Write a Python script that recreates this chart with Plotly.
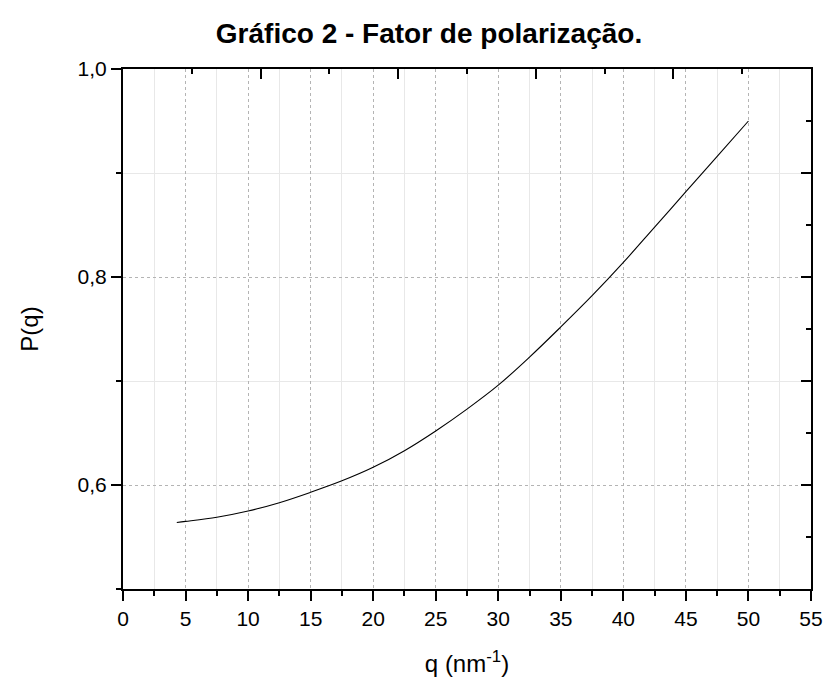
import plotly.graph_objects as go

# Data
q_vals = [4.3, 5, 7.5, 10, 12.5, 15, 17.5, 20, 22.5, 25, 27.5, 30, 32.5, 35,
          37.5, 40, 42.5, 45, 47.5, 50]
p_vals = [0.564, 0.565, 0.569, 0.575, 0.583, 0.593, 0.604, 0.617, 0.633, 0.652,
          0.673, 0.696, 0.723, 0.752, 0.782, 0.814, 0.848, 0.882, 0.916, 0.950]

title_text = "<b>Gráfico 2 - Fator de polarização.</b>"
x_title = "q (nm<sup>-1</sup>)"
y_title = "P(q)"

FONT = "Liberation Sans, Arial, sans-serif"

fig = go.Figure()
fig.add_trace(go.Scatter(x=q_vals, y=p_vals, mode="lines", line=dict(color="black", width=1.1, shape="spline"),
                         showlegend=False, hoverinfo="skip"))
# invisible trace to anchor top/right axes
fig.add_trace(go.Scatter(x=q_vals, y=p_vals, mode="lines", xaxis="x2", yaxis="y2",
                         line=dict(color="rgba(0,0,0,0)"), showlegend=False, hoverinfo="skip"))

major_grid = dict(showgrid=True, gridcolor="#b4b4b4", griddash="dot", gridwidth=1)

fig.update_layout(
    width=825, height=680,
    margin=dict(l=123, r=14, t=69, b=91),
    paper_bgcolor="white", plot_bgcolor="white",
    separators=",.",
    font=dict(family=FONT, color="black"),
    title=dict(text=title_text, x=429/825, xanchor="center", xref="container",
               y=1-33/680, yanchor="middle", yref="container",
               font=dict(size=28, family=FONT, color="black")),
    xaxis=dict(range=[0, 55], dtick=5, tick0=0, ticks="outside", ticklen=10, tickwidth=2,
               tickcolor="black", showline=True, linewidth=2, linecolor="black",
               tickfont=dict(size=21), zeroline=False, automargin=False,
               title=dict(text=x_title, font=dict(size=24), standoff=26),
               minor=dict(dtick=2.5, ticks="outside", ticklen=5, tickwidth=2, tickcolor="black",
                          showgrid=True, gridcolor="#e8e8e8", gridwidth=1, griddash="solid"),
               **major_grid),
    yaxis=dict(range=[0.5, 1.0], dtick=0.2, tick0=0.6, tickformat=".1f", ticks="outside",
               ticklen=10, tickwidth=2, tickcolor="black", showline=True, linewidth=2,
               linecolor="black", tickfont=dict(size=21), zeroline=False, automargin=False,
               title=dict(text=y_title, font=dict(size=24), standoff=32),
               minor=dict(dtick=0.1, tick0=0.5, ticks="outside", ticklen=5, tickwidth=2, tickcolor="black",
                          showgrid=True, gridcolor="#e8e8e8", gridwidth=1, griddash="solid"),
               **major_grid),
    xaxis2=dict(range=[0, 55], overlaying="x", side="top", dtick=11, tick0=0, ticks="inside",
                ticklen=10, tickwidth=2, tickcolor="black", showline=True, linewidth=2,
                linecolor="black", showticklabels=False, showgrid=False, zeroline=False, automargin=False,
                minor=dict(dtick=5.5, tick0=0, ticks="inside", ticklen=5, tickwidth=2, tickcolor="black",
                           showgrid=False)),
    yaxis2=dict(range=[0.5, 1.0], overlaying="y", side="right", dtick=0.1, tick0=0.5, ticks="inside",
                ticklen=10, tickwidth=2, tickcolor="black", showline=True, linewidth=2,
                linecolor="black", showticklabels=False, showgrid=False, zeroline=False, automargin=False,
                minor=dict(dtick=0.05, tick0=0.5, ticks="inside", ticklen=5, tickwidth=2, tickcolor="black",
                           showgrid=False)),
)

fig.write_html("out.html")
